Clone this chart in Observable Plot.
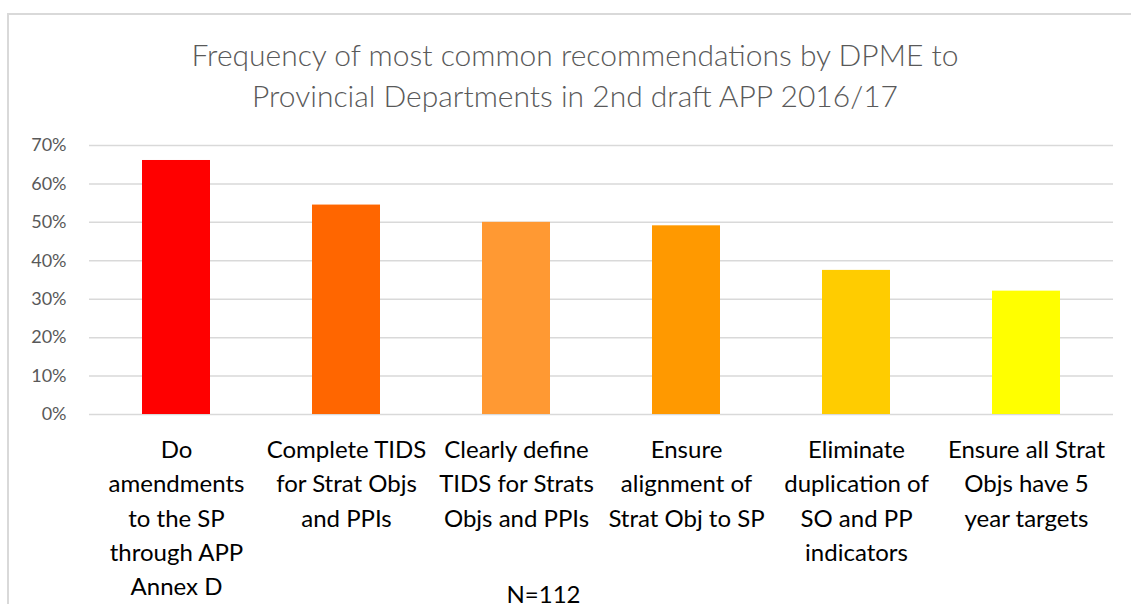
<!DOCTYPE html>
<html>
<head>
<meta charset="utf-8">
<script src="https://cdn.jsdelivr.net/npm/d3@7"></script>
<script src="https://cdn.jsdelivr.net/npm/@observablehq/plot@0.6"></script>
<style>
  html, body { margin: 0; padding: 0; background: #fff; }
  #wrap { position: relative; width: 1131px; height: 604px; overflow: hidden; font-family: Lato, "Open Sans", sans-serif; }
  #frame { position: absolute; left: 7px; top: 13px; width: 2000px; height: 2000px; border-top: 2px solid #d9d9d9; border-left: 2px solid #d9d9d9; box-sizing: border-box; }
  #title { position: absolute; left: 10px; width: 1130px; top: 34px; text-align: center; font-size: 30px; line-height: 41px; color: #595959; font-weight: 300; }
  #chart { position: absolute; left: 0; top: 125px; }
</style>
</head>
<body>
<div id="wrap">
  <div id="frame"></div>
  <div id="title">Frequency of most common recommendations by DPME to<br>Provincial Departments in 2nd draft APP 2016/17</div>
  <div id="chart"></div>
</div>
<script>
const categories = [
  "Do amendments to the SP through APP Annex D",
  "Complete TIDS for Strat Objs and PPIs",
  "Clearly define TIDS for Strats Objs and PPIs",
  "Ensure alignment of Strat Obj to SP",
  "Eliminate duplication of SO and PP indicators",
  "Ensure all Strat Objs have 5 year targets"
];
const tickLabels = [
  "Do\namendments\nto the SP\nthrough APP\nAnnex D",
  "Complete TIDS\nfor Strat Objs\nand PPIs",
  "Clearly define\nTIDS for Strats\nObjs and PPIs",
  "Ensure\nalignment of\nStrat Obj to SP",
  "Eliminate\nduplication of\nSO and PP\nindicators",
  "Ensure all Strat\nObjs have 5\nyear targets"
];
const values = [66.1, 54.5, 50.0, 49.1, 37.5, 32.1];
const colors = ["#FF0000", "#FF6600", "#FF9933", "#FF9900", "#FFCC00", "#FFFF00"];
const yTicks = [0, 10, 20, 30, 40, 50, 60, 70];
const caption = "N=112";

const data = categories.map((c, i) => ({cat: c, value: values[i], color: colors[i]}));
const labelOf = new Map(categories.map((c, i) => [c, tickLabels[i]]));

const chart = Plot.plot({
  width: 1131,
  height: 479,
  marginTop: 20,
  marginBottom: 190,
  marginLeft: 89,
  marginRight: 18,
  style: {fontFamily: "Lato, 'Open Sans', sans-serif", background: "transparent", overflow: "visible"},
  x: {domain: categories, paddingInner: 0.6, paddingOuter: 0.3, axis: null, label: null},
  y: {domain: [0, 70], axis: null, label: null},
  marks: [
    Plot.gridY(yTicks, {stroke: "#d9d9d9", strokeOpacity: 1, strokeWidth: 1.5}),
    Plot.barY(data, {x: "cat", y: "value", fill: "color"}),
    Plot.axisY({ticks: yTicks, tickFormat: d => d + "%", tickSize: 0, tickPadding: 23, fontSize: 18, fill: "#595959", label: null}),
    Plot.axisX({tickFormat: d => labelOf.get(d), tickSize: 0, tickPadding: 19, fontSize: 24, lineHeight: 1.43, fill: "#000", label: null}),
    Plot.text([caption], {text: d => d, frameAnchor: "bottom", dx: -58, dy: 171, lineAnchor: "top", fontSize: 24, fill: "#000"})
  ]
});
document.getElementById("chart").appendChild(chart);
</script>
</body>
</html>
